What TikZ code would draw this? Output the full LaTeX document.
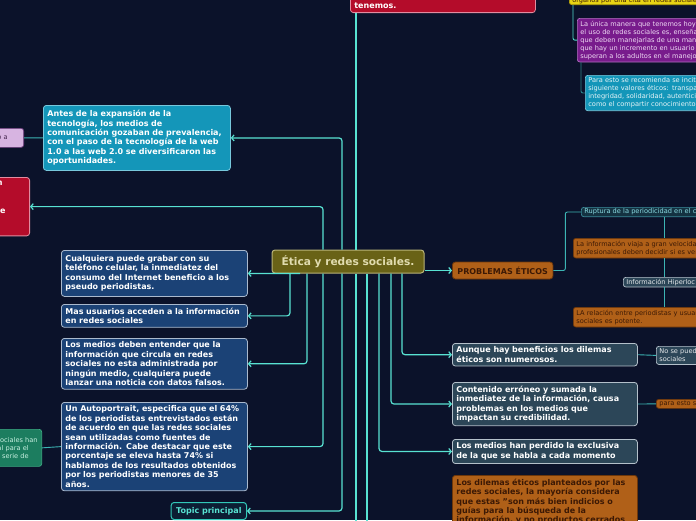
\documentclass[tikz,border=0pt]{standalone}
\usepackage{fontspec}
\setmainfont{DejaVu Sans}
\usepackage{tikz}
\usetikzlibrary{arrows.meta, positioning, calc}
\definecolor{fondoOscuro}{RGB}{11, 18, 42}
\definecolor{cian}{RGB}{88, 226, 210}
\definecolor{verdeAzul}{RGB}{60, 180, 180}
\definecolor{verdeAzulOsc}{RGB}{45, 130, 135}
\definecolor{azulTema}{RGB}{27, 66, 118}
\definecolor{bordeClaro}{RGB}{170, 185, 205}
\definecolor{rojoTema}{RGB}{180, 12, 42}
\definecolor{rojoClaro}{RGB}{225, 140, 160}
\definecolor{celeste}{RGB}{20, 150, 185}
\definecolor{celesteBorde}{RGB}{120, 200, 220}
\definecolor{oliva}{RGB}{105, 98, 22}
\definecolor{olivaBorde}{RGB}{185, 180, 120}
\definecolor{caqui}{RGB}{225, 220, 175}
\definecolor{naranja}{RGB}{176, 96, 24}
\definecolor{naranjaBorde}{RGB}{110, 55, 10}
\definecolor{marron}{RGB}{60, 25, 5}
\definecolor{pizarra}{RGB}{44, 70, 88}
\definecolor{pizarraBorde}{RGB}{180, 192, 202}
\definecolor{morado}{RGB}{120, 28, 140}
\definecolor{moradoBorde}{RGB}{175, 110, 190}
\definecolor{moradoTexto}{RGB}{240, 220, 245}
\definecolor{lavanda}{RGB}{215, 180, 225}
\definecolor{lavandaBorde}{RGB}{110, 60, 125}
\definecolor{lavandaTexto}{RGB}{70, 40, 80}
\definecolor{verdeHoja}{RGB}{28, 125, 95}
\definecolor{verdeBorde}{RGB}{60, 170, 130}
\definecolor{verdeTexto}{RGB}{200, 240, 225}
\definecolor{amarillo}{RGB}{232, 212, 20}
\definecolor{amarilloBorde}{RGB}{180, 160, 10}
\definecolor{rupturaFondo}{RGB}{20, 50, 65}
\definecolor{rupturaBorde}{RGB}{60, 140, 155}
\definecolor{rupturaTexto}{RGB}{140, 220, 228}
\definecolor{topicoFondo}{RGB}{12, 30, 52}
\definecolor{topicoBorde}{RGB}{50, 200, 185}

\begin{document}
\begin{tikzpicture}[x=1pt, y=-1pt,
  central/.style={rectangle, rounded corners=3pt, fill=oliva, draw=olivaBorde,
    line width=1pt, minimum width=152pt, minimum height=23pt, text=caqui,
    font=\fontsize{10.6}{12}\selectfont\bfseries},
  topic/.style={rectangle, rounded corners=3pt, draw=bordeClaro, fill=azulTema,
    line width=0.8pt, text=white, align=left, anchor=north west,
    inner xsep=4pt, inner ysep=3.5pt, text width=178pt,
    font=\fontsize{8}{9.4}\selectfont\bfseries},
  leaf/.style={rectangle, rounded corners=2.5pt, line width=0.7pt, align=left,
    anchor=north west, inner xsep=3pt, inner ysep=2.5pt, text width=140pt,
    font=\fontsize{6.6}{8}\selectfont},
  link/.style={line width=1.2pt, draw=cian, rounded corners=3pt},
  arr/.style={link, -{Straight Barb[length=2.5pt, width=6pt]}},
  sub/.style={line width=0.9pt, draw=verdeAzul, rounded corners=2pt},
]
\useasboundingbox (0,0) rectangle (696,520);
\fill[fondoOscuro] (0,0) rectangle (696,520);

% tema central
\node[central] (etica) at (348,261.5) {Ética y redes sociales.};

% ramas izquierdas
\node[topic, fill=celeste, draw=celesteBorde, text width=179pt,
  minimum height=65pt] (antes) at (43,105)
  {Antes de la expansión de la\\ tecnología, los medios de\\
   comunicación gozaban de prevalencia,\\ con el paso de la tecnología de la web\\
   1.0 a las web 2.0 se diversificaron las\\ oportunidades.};
\node[topic, fill=rojoTema, draw=rojoClaro, anchor=north east, text width=70pt,
  align=right] (rojoIzq) at (30,177)
  {\mbox{n\kern23pt}\\ \mbox{}\\ \mbox{}\\ \mbox{e\kern20pt}\\ \mbox{}\\ \mbox{}};
\node[topic, minimum height=46pt] (cual) at (61,250)
  {Cualquiera puede grabar con su\\ teléfono celular, la inmediatez del\\
   consumo del Internet beneficio a los\\ pseudo periodistas.};
\node[topic] (usuarios) at (61,304)
  {Mas usuarios acceden a la información\\ en redes sociales};
\node[topic] (deben) at (61,338)
  {Los medios deben entender que la\\ información que circula en redes\\
   sociales no esta administrada por\\ ningún medio, cualquiera puede\\
   lanzar una noticia con datos falsos.};
\node[topic] (autop) at (61,402)
  {Un Autoportrait, especifica que el 64\%\\ de los periodistas entrevistados están\\
   de acuerdo en que las redes sociales\\ sean utilizadas como fuentes de\\
   información. Cabe destacar que este\\ porcentaje se eleva hasta 74\% si\\
   hablamos de los resultados obtenidos\\ por los periodistas menores de 35\\ años.};
\node[rectangle, rounded corners=3pt, fill=topicoFondo, draw=topicoBorde,
  line width=1pt, anchor=north east, minimum height=17pt, inner xsep=5pt,
  text=cian, font=\fontsize{8}{9.4}\selectfont\bfseries] (topico) at (247,502)
  {Topic principal};

% hojas izquierdas
\node[leaf, fill=lavanda, draw=lavandaBorde, text=lavandaTexto, anchor=north east,
  text width=58pt, align=right, minimum height=19pt] (lavanda) at (24,128)
  {\mbox{o a\kern13pt}};
\node[leaf, fill=verdeHoja, draw=verdeBorde, text=verdeTexto, anchor=north east,
  text width=70pt, align=right, minimum height=37pt] (verde) at (42,429)
  {\mbox{sociales han\kern1pt}\\ \mbox{al para el\kern10pt}\\
   \mbox{serie de\kern10pt}};

% rama superior
\node[topic, fill=rojoTema, draw=rojoClaro, anchor=south west, text width=177pt]
  (rojoSup) at (350,13) {\mbox{}\\ tenemos.};
\node[leaf, fill=amarillo, draw=amarilloBorde, text=marron, anchor=south west,
  inner ysep=1pt] (amarillo) at (569,5) {órganos por una cita en redes sociale};
\node[leaf, fill=morado, draw=moradoBorde, text=moradoTexto] (morado) at (577,18)
  {La única manera que tenemos hoy\\ el uso de redes sociales es, enseña\\
   que deben manejarlas de una mane\\ que hay un incremento en usuario\\
   superan a los adultos en el manejo};
\node[leaf, fill=celeste, draw=celesteBorde, text=white!90!celeste] (celesteHoja)
  at (585,75)
  {Para esto se recomienda se incita\\ siguiente valores éticos: transpar\\
   integridad, solidaridad, autenticid\\ como el compartir conocimiento};

% ramas derechas
\node[rectangle, rounded corners=3pt, fill=naranja, draw=naranjaBorde,
  line width=0.8pt, anchor=west, minimum height=17pt, inner xsep=5pt,
  text=marron, font=\fontsize{8}{9.4}\selectfont\bfseries] (prob) at (452,270.5)
  {PROBLEMAS ÉTICOS};
\node[topic, fill=pizarra, draw=pizarraBorde, text width=177pt] (aunque)
  at (452,343) {Aunque hay beneficios los dilemas\\ éticos son numerosos.};
\node[topic, fill=pizarra, draw=pizarraBorde, text width=177pt] (contenido)
  at (452,382)
  {Contenido erróneo y sumada la\\ inmediatez de la información, causa\\
   problemas en los medios que\\ impactan su credibilidad.};
\node[topic, fill=pizarra, draw=pizarraBorde, text width=177pt] (perdido)
  at (452,439)
  {Los medios han perdido la exclusiva\\ de la que se habla a cada momento};
\node[topic, fill=naranja, draw=naranjaBorde, text=marron, text width=177pt]
  (dilemas) at (452,475)
  {Los dilemas éticos planteados por las\\ redes sociales, la mayoría considera\\
   que estas "son más bien indicios o\\ guías para la búsqueda de la\\
   información, y no productos cerrados\\ \mbox{}};

% hojas derechas
\node[leaf, fill=rupturaFondo, draw=rupturaBorde, text=rupturaTexto,
  inner ysep=1.5pt] (ruptura) at (581,207) {Ruptura de la periodicidad en el ci};
\node[leaf, fill=naranja, draw=naranjaBorde, text=marron] (viaja) at (573,238)
  {La información viaja a gran velocidad\\ profesionales deben decidir si es ver};
\node[leaf, fill=pizarra, draw=pizarraBorde, text=white!88!pizarra,
  inner ysep=1.5pt] (hiper) at (623,277) {Información Hiperloc};
\node[leaf, fill=naranja, draw=naranjaBorde, text=marron] (relacion) at (573,307)
  {LA relación entre periodistas y usuar\\ sociales es potente.};
\node[leaf, fill=pizarra, draw=pizarraBorde, text=white!88!pizarra] (nose)
  at (656,346) {No se pued\\ sociales};
\node[leaf, fill=naranja, draw=naranjaBorde, text=marron, inner ysep=1.5pt]
  (para) at (656,399) {para esto s};

\coordinate (finA) at (356,530);
\coordinate (finB) at (367,530);
\coordinate (eje) at (664,0);

% conectores
\draw[arr] ([xshift=-6]etica.north) |- (antes.east);
\draw[arr] ([xshift=-25]etica.north) |- (rojoIzq.east);
\draw[link] ([xshift=8]etica.north) -- ([xshift=6]rojoSup.south west);
\draw[arr] ([xshift=-48]etica.south) -- (cual.east);
\foreach \d/\n in {-58/usuarios, -41/deben, -25/autop, -6/topico}
  \draw[arr] ([xshift=\d]etica.south) |- (\n.east);
\foreach \d/\n in {31/perdido, 43/contenido, 54/aunque}
  \draw[arr] ([xshift=\d]etica.south) |- (\n.west);
\draw[link] ([xshift=8]etica.south) -- (finA);
\draw[link] ([xshift=19]etica.south) -- (finB);
\draw[arr] (etica.east |- prob.west) -- (prob.west);

\draw[sub] (prob.east) -- ++(12,0) |- (ruptura.west);
\draw[sub] (ruptura.south -| eje) -- (viaja.north -| eje);
\draw[sub] (viaja.south -| eje) -- (hiper.north -| eje);
\draw[sub] (hiper.south -| eje) -- (relacion.north -| eje);
\draw[sub] (aunque.east) -- (nose.west);
\draw[sub] (contenido.east) -- (para.west);
\draw[sub] (antes.west) -- (lavanda.east);
\draw[sub] (autop.west) -- (verde.east);
\draw[sub, draw=cian!80!verdeAzul] ([xshift=4]amarillo.south west) |- (morado.west);
\draw[sub, draw=verdeAzulOsc] ([xshift=4]morado.south west) |- (celesteHoja.west);
\end{tikzpicture}
\end{document}
